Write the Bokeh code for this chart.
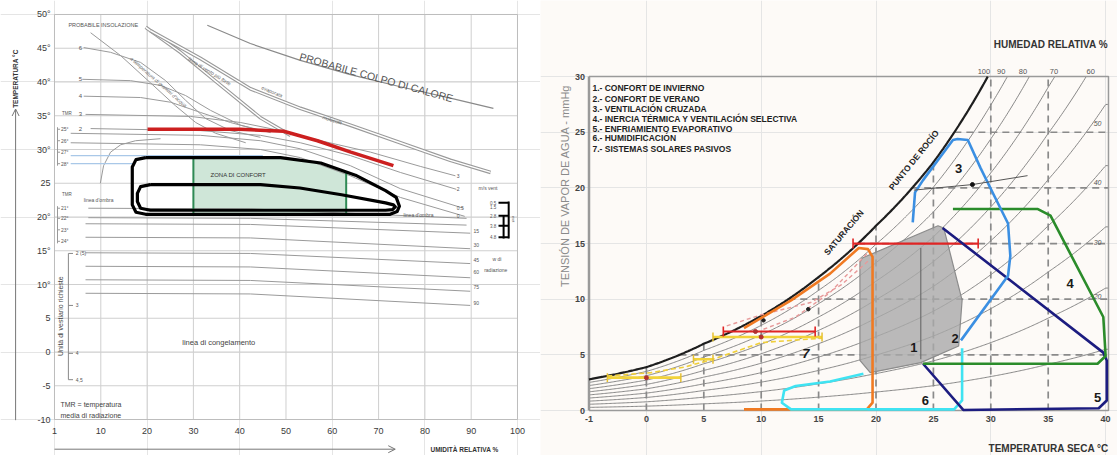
import numpy as np
from bokeh.plotting import figure
from bokeh.layouts import row
from bokeh.models import Label, Arrow, OpenHead, FixedTicker, LinearAxis
from bokeh.embed import file_html
from bokeh.resources import INLINE

# ================= LEFT CHART DATA (Olgyay bioclimatic chart) =================
rh_ticks = [0, 10, 20, 30, 40, 50, 60, 70, 80, 90, 100]
rh_tick_labels = ["1", "10", "20", "30", "40", "50", "60", "70", "80", "90", "100"]
temp_ticks = [-10, -5, 0, 5, 10, 15, 20, 25, 30, 35, 40, 45, 50]
temp_tick_labels = ["-10", "-5", "0", "5", "10°", "15°", "20°", "25", "30°", "35°", "40°", "45°", "50°"]

grey_x = [
    [7.8, 14.3, 20.7, 26.1, 30.5, 34.8, 41.3],
    [6.3, 12.1, 18.6, 24.0, 28.3, 32.6, 38.0, 44.5],
    [6.0, 16.4, 22.9, 28.3, 33.7, 40.2, 46.7],
    [6.3, 18.6, 25.1, 31.5, 38.0, 44.5],
    [6.7, 29.4, 40.2, 48.8, 57.5, 68.3, 79.0, 86.6],
    [7.8, 31.5, 44.5, 53.1, 63.9, 74.7, 86.8],
    [3.5, 31.5, 44.5, 53.1, 63.9, 74.7, 88.3],
    [3.5, 31.5, 44.5, 53.1, 63.9, 74.7, 88.6],
    [9.9, 10.6, 12.1, 14.3, 17.5, 22.9],
    [7.3, 42.3, 89.0],
    [7.3, 42.3, 89.0],
    [6.7, 42.3, 89.8],
    [6.7, 42.3, 89.8],
    [6.7, 42.3, 89.8],
    [6.7, 42.3, 89.8],
    [6.7, 42.3, 89.8],
    [6.7, 42.3, 89.8],
]
grey_y = [
    [47.3, 43.9, 39.9, 36.5, 34.0, 32.4, 31.0],
    [45.1, 44.4, 42.9, 40.2, 37.3, 34.6, 32.8, 31.8],
    [40.4, 40.2, 39.5, 38.0, 35.8, 33.6, 32.5],
    [37.9, 37.7, 37.0, 35.5, 34.0, 32.8],
    [35.2, 34.9, 34.0, 32.8, 31.3, 29.6, 27.5, 26.1],
    [33.1, 32.8, 32.1, 31.0, 29.1, 26.6, 24.1],
    [32.4, 32.1, 31.3, 30.1, 27.6, 24.2, 21.3],
    [31.0, 30.7, 30.0, 28.8, 26.1, 22.9, 20.1],
    [25.0, 27.6, 29.6, 30.7, 31.3, 31.6],
    [21.3, 21.2, 19.8],
    [19.9, 19.8, 18.8],
    [19.0, 18.9, 17.6],
    [17.0, 16.9, 15.3],
    [14.7, 14.6, 13.1],
    [12.7, 12.6, 11.0],
    [10.7, 10.6, 9.0],
    [8.7, 8.6, 6.9],
]
blue_x = [[3.5, 45.0], [3.5, 17.0]]
blue_y = [[29.1, 29.1], [27.9, 27.9]]

band_a_x = [19.7, 27.2, 35.9, 44.5, 51.0]
band_a_y = [48.1, 44.4, 39.5, 34.7, 32.1]
band_b_x = [20.7, 31.5, 42.3, 53.1, 63.9, 74.7, 85.5, 94.2]
band_b_y = [47.6, 43.5, 39.0, 36.1, 33.6, 31.0, 28.4, 26.6]
heat_x = [33.0, 42.3, 53.1, 63.9, 74.7, 85.5, 94.8]
heat_y = [48.4, 45.7, 43.2, 41.1, 39.3, 37.6, 36.1]

red_x = [20.1, 40.0, 49.5, 56.8, 64.0, 73.2]
red_y = [33.0, 33.0, 32.7, 31.3, 29.6, 27.6]

comfort_x = [30.0, 48.8, 57.5, 63.0, 63.0, 30.0]
comfort_y = [28.8, 28.8, 28.0, 26.7, 20.4, 20.4]

outer_x = [19.7, 48.8, 57.5, 65.0, 71.5, 73.8, 74.5, 74.0, 72.5, 19.7, 17.6, 16.8, 16.8, 17.6, 19.7]
outer_y = [28.8, 28.8, 28.0, 26.2, 23.9, 22.9, 21.6, 20.8, 20.4, 20.4, 20.7, 21.8, 27.4, 28.5, 28.8]
inner_x = [20.7, 44.5, 53.0, 62.0, 71.5, 73.2, 73.6, 73.0, 71.5, 20.7, 18.6, 17.9, 17.9, 18.6, 20.7]
inner_y = [24.8, 24.8, 24.3, 23.3, 22.1, 21.8, 21.5, 21.1, 21.0, 21.0, 21.3, 22.3, 23.5, 24.5, 24.8]

wind_end_labels = ["3", "2", "0.5", "0"]
wind_end_y = [26.1, 24.1, 21.3, 20.1]
rad_labels = ["15", "30", "45", "60", "75", "90"]
rad_y = [17.9, 15.8, 13.7, 11.8, 9.6, 7.3]
wind_speed_labels = ["0.5", "1.5", "2.8", "3.8", "4.8"]
wind_speed_y = [22.1, 21.5, 20.2, 18.7, 17.0]
line_numbers = ["6", "5", "4", "3", "2"]
line_number_y = [45.1, 40.4, 38.0, 35.2, 33.1]
tmr_hi_labels = ["25°", "26°", "27°", "28°"]
tmr_hi_y = [33.0, 31.3, 29.6, 27.9]
tmr_lo_labels = ["21°", "22°", "23°", "24°"]
tmr_lo_y = [21.3, 19.8, 18.1, 16.4]
clo_labels = ["2 (5)", "3", "4", "4,5"]
clo_y = [14.6, 6.9, -0.2, -4.1]

# ================= RIGHT CHART DATA (Givoni psychrometric chart) =================
t_ticks = [-5, 0, 5, 10, 15, 20, 25, 30, 35, 40]
t_tick_labels = ["-1", "0", "5", "10", "15", "20", "25", "30", "35", "40"]
p_ticks = [0, 5, 10, 15, 20, 25, 30]
sat_T = [-5, 0, 5, 10, 15, 20, 25, 30, 35, 40]
sat_P = [2.8, 3.9, 6.0, 8.5, 12.0, 16.6, 22.3, 30.5, 41.5, 55.0]
rh_levels = [10, 20, 30, 40, 50, 60, 70, 80, 90]
rh_top_labels = ["100", "90", "80", "70", "60"]
rh_top_T = [29.4, 30.9, 32.8, 35.5, 38.7]
rh_side_labels = ["50", "40", "30", "20"]
rh_side_P = [25.8, 20.5, 15.1, 10.2]
grid_T = [0, 5, 10, 15, 20, 25, 30, 35]
grid_P = [5, 10, 15, 20, 25]

zone1_T = [18.8, 25.4, 25.9, 27.5, 27.2, 23.9, 19.5, 18.6, 18.6]
zone1_P = [13.7, 16.6, 16.4, 9.9, 5.8, 4.3, 3.4, 4.5, 13.3]
zone3_T = [23.2, 23.4, 24.1, 26.7, 27.1, 28.0, 29.1, 30.2, 31.5, 31.7, 31.5, 27.4]
zone3_P = [16.9, 19.6, 20.7, 24.3, 24.4, 24.3, 21.8, 19.5, 16.8, 13.9, 12.1, 6.3]
zone4_T = [26.7, 34.1, 35.2, 39.8, 40.0, 39.3, 24.1]
zone4_P = [18.1, 18.1, 17.5, 8.4, 4.9, 4.2, 4.2]
zone5_T = [25.8, 39.8, 40.1, 40.1, 39.4, 27.6, 24.1]
zone5_P = [16.4, 5.2, 4.5, 0.9, 0.2, 0.05, 4.2]
zone6_T = [27.5, 27.5, 26.8, 12.6, 11.8, 12.0, 13.0, 16.0, 18.9]
zone6_P = [5.6, 0.9, 0.1, 0.1, 0.7, 1.8, 2.2, 2.6, 3.3]
zone7_T = [8.5, 12.6, 16.0, 18.5, 19.3, 19.7, 19.7, 19.2, 8.5]
zone7_P = [7.4, 9.9, 12.3, 14.6, 14.5, 13.8, 0.7, 0.1, 0.1]

red_bar_P = [7.1, 15.0]
red_bar_T0 = [6.7, 18.0]
red_bar_T1 = [14.7, 28.9]
yellow_bar_P = [2.95, 6.6, 4.6]
yellow_bar_T0 = [-3.4, 5.8, 4.1]
yellow_bar_T1 = [3.0, 15.3, 5.8]
pink_a_T = [10.2, 13.0, 16.0, 19.5]
pink_a_P = [7.3, 8.4, 10.6, 14.4]
pink_b_T = [7.0, 10.0, 14.3, 17.0, 19.5]
pink_b_P = [7.6, 8.6, 9.7, 11.3, 13.6]
yellow_dash_T = [-3.4, 0.4, 3.3, 5.8, 10.0, 15.3]
yellow_dash_P = [3.1, 3.4, 3.9, 4.6, 6.1, 6.5]
marker_T = [23.3, 28.4, 33.2]
marker_P = [19.8, 20.3, 21.1]

legend_lines = [
    "1.- CONFORT DE INVIERNO",
    "2.- CONFORT DE VERANO",
    "3.- VENTILACIÓN CRUZADA",
    "4.- INERCIA TÉRMICA Y VENTILACIÓN SELECTIVA",
    "5.- ENFRIAMIENTO EVAPORATIVO",
    "6.- HUMIDIFICACIÓN",
    "7.- SISTEMAS SOLARES PASIVOS",
]
legend_P = [29.0, 28.0, 27.1, 26.2, 25.3, 24.5, 23.5]
zone_numbers = ["1", "2", "3", "4", "5", "6"]
zone_num_T = [23.3, 26.9, 27.2, 36.9, 39.3, 24.3]
zone_num_P = [5.7, 6.5, 21.7, 11.4, 1.2, 0.9]

FONT = "Liberation Sans"


def lab(p, x, y, text, size="6px", color="#555555", angle=0.0, align="left",
        baseline="middle", style="normal", font=FONT):
    p.add_layout(Label(x=x, y=y, text=text, text_font_size=size, text_color=color,
                       angle=angle, text_align=align, text_baseline=baseline,
                       text_font_style=style, text_font=font))


def style_axis(ax, size, color, bold=False):
    ax.axis_line_color = None
    ax.major_tick_line_color = None
    ax.minor_tick_line_color = None
    ax.major_tick_out = 0
    ax.major_tick_in = 0
    ax.major_label_text_font = FONT
    ax.major_label_text_font_size = size
    ax.major_label_text_color = color
    if bold:
        ax.major_label_text_font_style = "bold"


# ----------------------------------------------------------------- left figure
# frame covers the whole canvas; data box 0..100 x -10..50 sits at px 54..517 x 14..419
p1 = figure(width=540, height=455, x_range=(-11.663, 104.97), y_range=(-15.333, 52.074),
            output_backend="svg", toolbar_location=None, min_border=0,
            x_axis_location=None, y_axis_location=None)
p1.outline_line_color = None
p1.background_fill_color = "white"
p1.border_fill_color = "white"

xax1 = LinearAxis(fixed_location=-10, ticker=FixedTicker(ticks=rh_ticks), bounds=(0, 100),
                  major_label_overrides={t: s for t, s in zip(rh_ticks, rh_tick_labels)})
yax1 = LinearAxis(fixed_location=0, ticker=FixedTicker(ticks=temp_ticks), bounds=(-10, 50),
                  major_label_overrides={t: s for t, s in zip(temp_ticks, temp_tick_labels)})
style_axis(xax1, "9px", "#3a3a3a")
style_axis(yax1, "9px", "#3a3a3a")
xax1.major_label_standoff = 8
yax1.major_label_standoff = 4
p1.add_layout(xax1, "below")
p1.add_layout(yax1, "left")

# grid and frame
p1.segment(x0=rh_ticks, y0=[-10] * len(rh_ticks), x1=rh_ticks, y1=[50] * len(rh_ticks),
           line_color="#cfcfcf", line_width=1)
p1.segment(x0=[0] * len(temp_ticks), y0=temp_ticks, x1=[100] * len(temp_ticks), y1=temp_ticks,
           line_color="#cfcfcf", line_width=1)
p1.line([0, 100, 100, 0, 0], [-10, -10, 50, 50, -10], line_color="#bdbdbd", line_width=1)

p1.patch(comfort_x, comfort_y, fill_color="#cfe6d8", line_color=None)
for xs, ys in zip(grey_x, grey_y):
    p1.line(xs, ys, line_color="#9a9a9a", line_width=1)
for xs, ys in zip(blue_x, blue_y):
    p1.line(xs, ys, line_color="#a9c8e8", line_width=1.2)
for bx, by in ((band_a_x, band_a_y), (band_b_x, band_b_y)):
    p1.line(bx, by, line_color="#9a9a9a", line_width=3.6)
    p1.line(bx, by, line_color="white", line_width=1.4)
p1.line(heat_x, heat_y, line_color="#8a8a8a", line_width=1.2)
p1.line(red_x, red_y, line_color="#cc1f1f", line_width=3.5)
p1.segment(x0=[30.0, 63.0], y0=[20.4, 20.4], x1=[30.0, 63.0], y1=[28.8, 26.7],
           line_color="#2f8a55", line_width=2)
p1.line(outer_x, outer_y, line_color="black", line_width=3.2, line_join="round")
p1.line(inner_x, inner_y, line_color="black", line_width=3.2, line_join="round")

# brackets
p1.segment(x0=[0.65, 0.65], y0=[33.3, 21.6], x1=[0.65, 0.65], y1=[27.6, 16.1],
           line_color="#999999", line_width=1)
p1.segment(x0=[0.65] * 8, y0=tmr_hi_y + tmr_lo_y, x1=[1.2] * 8, y1=tmr_hi_y + tmr_lo_y,
           line_color="#999999", line_width=1)
p1.segment(x0=[3.0], y0=[clo_y[0]], x1=[3.0], y1=[clo_y[-1]], line_color="#888888", line_width=1)
p1.segment(x0=[3.0] * 4, y0=clo_y, x1=[4.0] * 4, y1=clo_y, line_color="#888888", line_width=1)
p1.segment(x0=[98.1, 97.0], y0=[22.3, 20.3], x1=[98.1, 97.0], y1=[16.8, 16.8],
           line_color="black", line_width=2)
p1.segment(x0=[95.9] * 4, y0=[22.1, 20.2, 18.7, 17.0], x1=[98.1] * 4, y1=[22.1, 20.2, 18.7, 17.0],
           line_color="black", line_width=2)

# left-chart texts
lab(p1, 3.0, 48.5, "PROBABILE INSOLAZIONE", size="5.5px")
for t, y in zip(line_numbers, line_number_y):
    lab(p1, 5.6, y, t, size="6px", align="center")
lab(p1, 1.6, 35.3, "TMR", size="4.5px")
lab(p1, 1.6, 23.3, "TMR", size="4.5px")
for t, y in zip(tmr_hi_labels + tmr_lo_labels, tmr_hi_y + tmr_lo_y):
    lab(p1, 1.4, y, t, size="5px")
lab(p1, 6.3, 22.5, "linea d'ombra", size="5px")
lab(p1, 75.4, 20.3, "linea d'ombra", size="5px")
lab(p1, 33.7, 26.2, "ZONA DI CONFORT", size="6px", color="#333333")
lab(p1, 27.6, 1.4, "linea di congelamento", size="7.5px", color="#444444")
lab(p1, 1.3, -7.8, "TMR = temperatura", size="7px", color="#444444")
lab(p1, 1.3, -9.4, "media di radiazione", size="7px", color="#444444")
lab(p1, 1.4, 5.3, "Unità di vestiario richieste", size="7px", color="#444444",
    angle=np.pi / 2, align="center")
for t, y in zip(clo_labels, clo_y):
    lab(p1, 4.6, y, t, size="5px")
for t, y in zip(wind_end_labels, wind_end_y):
    lab(p1, 86.9, y, t, size="5px")
for t, y in zip(rad_labels, rad_y):
    lab(p1, 90.5, y, t, size="5px")
lab(p1, 91.6, 24.3, "m/s vent", size="5px")
lab(p1, 94.6, 13.8, "w di", size="5px")
lab(p1, 92.8, 12.1, "radiazione", size="5px")
for t, y in zip(wind_speed_labels, wind_speed_y):
    lab(p1, 95.4, y, t, size="4.5px", align="right")
lab(p1, 99.2, 19.7, "met", size="4px", angle=-np.pi / 2, align="center")
lab(p1, 69.5, 40.7, "PROBABILE COLPO DI CALORE", size="10.5px", color="#555555", angle=-0.27,
    align="center")
lab(p1, 22.5, 40.0, "a temperatura di grammi d'acqua", size="5px", color="#666666",
    angle=-0.72, align="center", style="italic")
lab(p1, 33.5, 41.6, "linea di vento più forte", size="5px", color="#666666",
    angle=-0.55, align="center", style="italic")
lab(p1, 47.0, 38.6, "evaporata", size="5px", color="#666666", angle=-0.4, align="center",
    style="italic")
lab(p1, 60.0, 34.4, "molecola", size="5px", color="#666666", angle=-0.3, align="center",
    style="italic")
lab(p1, -8.4, 40.5, "TEMPERATURA °C", size="6.5px", color="#333333", angle=np.pi / 2,
    align="center", style="bold")
p1.add_layout(Arrow(x_start=-8.4, y_start=-10.1, x_end=-8.4, y_end=36.0,
                    end=OpenHead(size=7, line_color="#777777", line_width=1),
                    line_color="#777777", line_width=1))
p1.add_layout(Arrow(x_start=0.0, y_start=-14.4, x_end=73.6, y_end=-14.4,
                    end=OpenHead(size=7, line_color="#777777", line_width=1),
                    line_color="#777777", line_width=1))
lab(p1, 81.2, -14.4, "UMIDITÀ RELATIVA %", size="6.5px", color="#333333", style="bold")

# ---------------------------------------------------------------- right figure
# data box -5..40.25 x 0..30 sits at px 588.5..1108 x 76..410 (canvas starts at 540)
BG = "#fdfaf7"
P_TOP = 30.0
T_RIGHT = 40.25
p2 = figure(width=577, height=455, x_range=(-9.225, 41.036), y_range=(-4.043, 36.837),
            output_backend="svg", toolbar_location=None, min_border=0,
            x_axis_location=None, y_axis_location=None)
p2.background_fill_color = BG
p2.border_fill_color = BG
p2.outline_line_color = None

xax2 = LinearAxis(fixed_location=0, ticker=FixedTicker(ticks=t_ticks), bounds=(-5, 40),
                  major_label_overrides={t: s for t, s in zip(t_ticks, t_tick_labels)})
yax2 = LinearAxis(fixed_location=-5, ticker=FixedTicker(ticks=p_ticks), bounds=(0, 30))
style_axis(xax2, "9px", "#444444", bold=True)
style_axis(yax2, "9px", "#444444", bold=True)
xax2.major_label_standoff = 5
yax2.major_label_standoff = 4
p2.add_layout(xax2, "below")
p2.add_layout(yax2, "left")


def clip_top(T, P, top):
    T = np.asarray(T, dtype=float)
    P = np.asarray(P, dtype=float)
    if P.max() <= top:
        return T, P
    t_cut = np.interp(top, P, T)
    keep = P < top
    return np.append(T[keep], t_cut), np.append(P[keep], top)


T_fine = np.linspace(-5, T_RIGHT, 400)
psat = np.exp(np.interp(T_fine, sat_T, np.log(sat_P)))
for rh in rh_levels:
    tt, pp = clip_top(T_fine, psat * rh / 100.0, P_TOP)
    p2.line(tt, pp, line_color="#7a7a7a", line_width=0.9)

gT = np.array(grid_T, dtype=float)
g_top = np.minimum(np.exp(np.interp(gT, sat_T, np.log(sat_P))), P_TOP)
p2.segment(x0=gT, y0=np.zeros_like(gT), x1=gT, y1=g_top,
           line_color="#8a8a8a", line_width=1.7, line_dash="7 5")
gP = np.array(grid_P, dtype=float)
g_left = np.interp(np.log(gP), np.log(sat_P), sat_T)
p2.segment(x0=g_left, y0=gP, x1=np.full_like(gP, T_RIGHT), y1=gP,
           line_color="#8a8a8a", line_width=1.7, line_dash="7 5")

# frame: top, right, bottom thin; left thick axis line
p2.line([-5, T_RIGHT, T_RIGHT, -5], [P_TOP, P_TOP, 0, 0], line_color="#9a9a9a", line_width=1.5)
p2.line([-5, -5], [0, P_TOP], line_color="#9a9a9a", line_width=2.5)

p2.patch(zone1_T, zone1_P, fill_color="#a9a9a9", fill_alpha=0.8, line_color="#8c8c8c",
         line_width=1.2, line_join="round")
p2.segment(x0=[23.9], y0=[4.6], x1=[23.9], y1=[14.6], line_color="#6e6e6e", line_width=1.2)
ts, ps_ = clip_top(T_fine, psat, P_TOP)
p2.line(ts, ps_, line_color="#1e1e1e", line_width=2.2)

p2.line(pink_a_T, pink_a_P, line_color="#e79a9a", line_width=1.4, line_dash="4 3")
p2.line(pink_b_T, pink_b_P, line_color="#e79a9a", line_width=1.4, line_dash="4 3")
p2.line(yellow_dash_T, yellow_dash_P, line_color="#f0cf3a", line_width=1.6, line_dash="5 3")
p2.segment(x0=yellow_bar_T0, y0=yellow_bar_P, x1=yellow_bar_T1, y1=yellow_bar_P,
           line_color="#f2d33a", line_width=2.6)
yb_T = yellow_bar_T0 + yellow_bar_T1
yb_P = yellow_bar_P + yellow_bar_P
p2.segment(x0=yb_T, y0=[v - 0.4 for v in yb_P], x1=yb_T, y1=[v + 0.4 for v in yb_P],
           line_color="#e6c030", line_width=1.5)
p2.segment(x0=red_bar_T0, y0=red_bar_P, x1=red_bar_T1, y1=red_bar_P,
           line_color="#e02424", line_width=2.2)
rb_T = red_bar_T0 + red_bar_T1
rb_P = red_bar_P + red_bar_P
p2.segment(x0=rb_T, y0=[v - 0.45 for v in rb_P], x1=rb_T, y1=[v + 0.45 for v in rb_P],
           line_color="#e02424", line_width=1.6)
p2.scatter([9.5, 0.0, 10.0], [7.1, 2.95, 6.6], size=4, color="#b03030")
p2.scatter([10.2, 14.1], [8.1, 9.1], size=3.5, color="#222222")

p2.line(zone7_T, zone7_P, line_color="#f07a22", line_width=2.6, line_join="round")
p2.line(zone6_T, zone6_P, line_color="#3fe3f2", line_width=2.6, line_join="round")
p2.line(zone5_T, zone5_P, line_color="#1c1c80", line_width=2.6, line_join="round")
p2.line(zone4_T, zone4_P, line_color="#2b8c2b", line_width=2.6, line_join="round")
p2.line(zone3_T, zone3_P, line_color="#3b8fe2", line_width=2.6, line_join="round")
p2.line(marker_T, marker_P, line_color="#555555", line_width=1)
p2.scatter([marker_T[1]], [marker_P[1]], size=4, color="#111111")

for t, x, y in zip(zone_numbers, zone_num_T, zone_num_P):
    lab(p2, x, y, t, size="13px", color="#1a1a1a", align="center", style="bold")
lab(p2, 13.9, 5.1, "7", size="13px", color="#1a1a1a", align="center", style="bold italic")
for t, y in zip(legend_lines, legend_P):
    lab(p2, -4.7, y, t, size="8.5px", color="#1e1e1e", style="bold",
        font="Liberation Sans Narrow, Liberation Sans")
lab(p2, 17.2, 16.0, "SATURACIÓN", size="8.5px", color="#1e1e1e", angle=0.87, align="center",
    style="bold")
lab(p2, 23.3, 22.5, "PUNTO DE ROCÍO", size="8.5px", color="#1e1e1e", angle=0.89, align="center",
    style="bold")
for t, x in zip(rh_top_labels, rh_top_T):
    lab(p2, x, 30.45, t, size="7.5px", color="#555555", align="center")
for t, y in zip(rh_side_labels, rh_side_P):
    lab(p2, 39.3, y, t, size="7px", color="#555555", align="center", style="italic")
lab(p2, -7.05, 20.2, "TENSIÓN DE VAPOR DE AGUA - mmHg", size="11px", color="#8a8a8a",
    angle=np.pi / 2, align="center")
lab(p2, 40.2, 32.9, "HUMEDAD RELATIVA %", size="10px", color="#333333", align="right",
    style="bold")
lab(p2, 40.3, -3.4, "TEMPERATURA SECA °C", size="10px", color="#333333", align="right",
    style="bold")

layout = row(p1, p2)
open("out.html", "w").write(file_html(layout, INLINE))
